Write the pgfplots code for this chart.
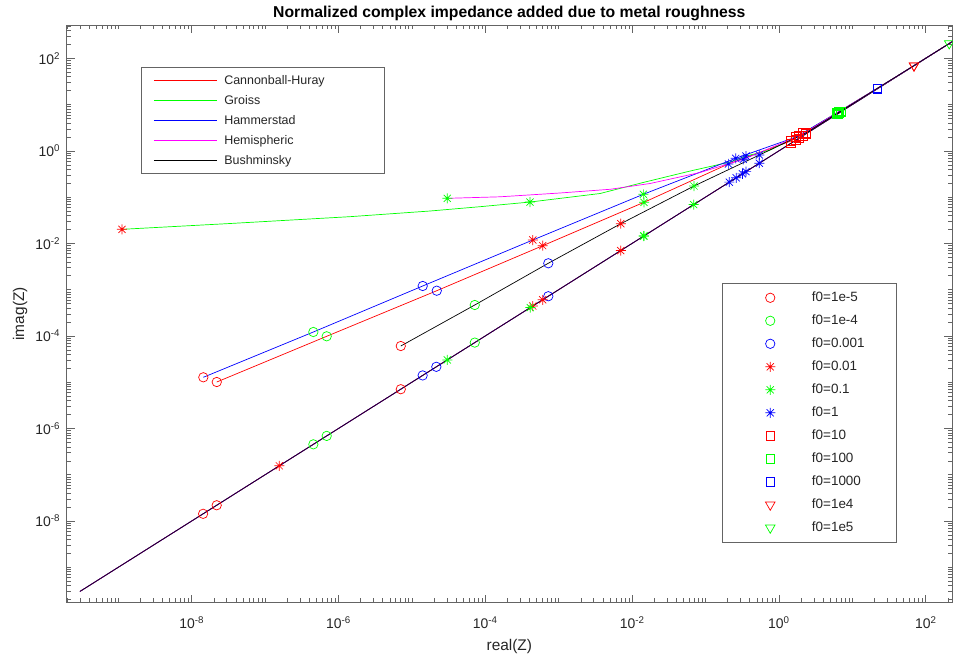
\documentclass[border=0pt]{standalone}
\usepackage{pgfplots}
\pgfplotsset{compat=1.18}
\usepackage{fontspec}
\setmainfont{Liberation Sans}
\definecolor{mred}{RGB}{255,0,0}
\definecolor{mgreen}{RGB}{0,255,0}
\definecolor{mblue}{RGB}{0,0,255}
\definecolor{mmag}{RGB}{255,0,255}
\definecolor{axgray}{RGB}{100,100,100}
\definecolor{txgray}{RGB}{38,38,38}
\pgfdeclareplotmark{mstar}{%
 \pgfpathmoveto{\pgfqpoint{-\pgfplotmarksize}{0pt}}\pgfpathlineto{\pgfqpoint{\pgfplotmarksize}{0pt}}%
 \pgfpathmoveto{\pgfqpoint{0pt}{-\pgfplotmarksize}}\pgfpathlineto{\pgfqpoint{0pt}{\pgfplotmarksize}}%
 \pgfpathmoveto{\pgfqpoint{-.7071\pgfplotmarksize}{-.7071\pgfplotmarksize}}\pgfpathlineto{\pgfqpoint{.7071\pgfplotmarksize}{.7071\pgfplotmarksize}}%
 \pgfpathmoveto{\pgfqpoint{-.7071\pgfplotmarksize}{.7071\pgfplotmarksize}}\pgfpathlineto{\pgfqpoint{.7071\pgfplotmarksize}{-.7071\pgfplotmarksize}}%
 \pgfusepathqstroke}
\pgfplotsset{
  leglines/.style={legend image code/.code={\draw[##1] (0bp,0bp) -- (63.4bp,0bp);}},
  legmarks/.style={legend image code/.code={\path[draw=none,fill=none] (0bp,-3bp) rectangle (48bp,3bp); \draw[mark repeat=2,mark phase=2,##1] plot coordinates {(0bp,0bp) (24bp,0bp) (48bp,0bp)};}},
}
\gdef\minorlist{2e-10}
\foreach \ee in {-10,...,2}{\foreach \dd in {2,...,9}{\xdef\minorlist{\minorlist,\dd e\ee}}}
\foreach \ee in {-9,-7,-5,-3,-1,1}{\xdef\minorlist{\minorlist,1e\ee}}
\begin{document}%
\begin{tikzpicture}
\begin{axis}[
  scale only axis, width=885.3bp, height=577.7bp, at={(0bp,0bp)}, anchor=south west,
  xmode=log, ymode=log,
  xmin=1.98e-10, xmax=228, ymin=1.714e-10, ymax=525,
  axis line style={axgray, line width=0.6bp},
  tick align=inside,
  tick style={axgray, line width=0.5bp},
  major tick length=8bp, minor tick length=4.3bp,
  xtick={1e-8,1e-6,1e-4,1e-2,1,1e2},
  xticklabels={10\textsuperscript{-8},10\textsuperscript{-6},10\textsuperscript{-4},10\textsuperscript{-2},10\textsuperscript{0},10\textsuperscript{2}},
  ytick={1e-8,1e-6,1e-4,1e-2,1,1e2},
  yticklabels={10\textsuperscript{-8},10\textsuperscript{-6},10\textsuperscript{-4},10\textsuperscript{-2},10\textsuperscript{0},10\textsuperscript{2}},
  minor xtick/.expanded=\minorlist,
  minor ytick/.expanded=\minorlist,
  tick label style={font=\fontsize{14}{16}\selectfont, text=txgray},
  xticklabel style={anchor=base, yshift=-25.6bp},
  yticklabel style={anchor=east, inner sep=0pt, xshift=-6.5bp},
  title={Normalized complex impedance added due to metal roughness},
  every axis title/.style={font=\bfseries\fontsize{15.8}{18}\selectfont, at={(0.5,1.0133)}, anchor=base},
  xlabel={real(Z)}, ylabel={imag(Z)},
  every axis x label/.style={font=\fontsize{15.5}{18}\selectfont, text=txgray, at={(0.5,-0.0819)}, anchor=base},
  every axis y label/.style={font=\fontsize{15.5}{18}\selectfont, text=txgray, at={(-0.0527,0.5)}, rotate=90, anchor=center},
  leglines,
  legend style={at={(0.0836,0.9268)}, anchor=north west,
    draw=axgray, line width=0.6bp, inner xsep=12.6bp, inner ysep=7bp,
    font=\fontsize{12.5}{14}\selectfont, text=txgray,
    nodes={inner sep=0pt, text height=9.5bp, text depth=2.5bp},
    row sep=8bp},
  legend cell align=left,
]
\addlegendimage{draw=mred, line width=0.7bp}
\addlegendentry{\hspace{6.6bp}\makebox[147bp][l]{Cannonball-Huray}}
\addlegendimage{draw=mgreen, line width=0.7bp}
\addlegendentry{\hspace{6.6bp}Groiss}
\addlegendimage{draw=mblue, line width=0.7bp}
\addlegendentry{\hspace{6.6bp}Hammerstad}
\addlegendimage{draw=mmag, line width=0.7bp}
\addlegendentry{\hspace{6.6bp}Hemispheric}
\addlegendimage{draw=black, line width=0.7bp}
\addlegendentry{\hspace{6.6bp}Bushminsky}
% non-causal branches (imag = real)
\addplot[draw=mred, line width=0.7bp, forget plot] coordinates {(3e-10,3e-10) (260,260)};
\addplot[draw=mgreen, line width=0.7bp, forget plot] coordinates {(3e-10,3e-10) (260,260)};
\addplot[draw=mblue, line width=0.7bp, forget plot] coordinates {(3e-10,3e-10) (260,260)};
\addplot[draw=mmag, line width=0.7bp, forget plot] coordinates {(3e-10,3e-10) (260,260)};
\addplot[draw=black, forget plot, line width=0.6bp] coordinates {(3e-10,3e-10) (260,260)};
% causal branches
\addplot[draw=mred, line width=0.7bp, forget plot] coordinates {(2.193e-8,1.009e-5) (6.90e-7,9.82e-5) (2.18e-5,9.49e-4) (6.05e-4,8.91e-3) (1.452e-2,7.73e-2) (0.2047,0.520) (1.462,1.633) (6.17,6.61) (21.9,22.4) (69.2,69.5) (209,209) (260,260)};
\addplot[draw=mgreen, line width=0.7bp, forget plot] coordinates {(1.122e-9,2.014e-2) (3.33e-8,2.69e-2) (1.435e-6,3.78e-2) (1.766e-5,5.01e-2) (8.47e-5,6.21e-2) (4.06e-4,7.83e-2) (3.66e-3,0.1197) (1.41e-2,0.207) (6.15e-2,0.366) (0.216,0.574) (0.356,0.773) (0.757,1.04) (2.128,2.438) (6.61,7.08) (21.9,22.4) (69.2,69.5) (209,209) (260,260)};
\addplot[draw=mblue, line width=0.7bp, forget plot] coordinates {(1.439e-8,1.276e-5) (4.54e-7,1.216e-4) (1.403e-5,1.20e-3) (4.43e-4,1.183e-2) (1.422e-2,0.1151) (0.2576,0.690) (1.710,1.99) (6.31,6.76) (21.9,22.4) (69.2,69.5) (209,209) (260,260)};
\addplot[draw=mmag, line width=0.7bp, forget plot] coordinates {(3.03e-5,9.42e-2) (1.585e-4,0.1016) (1.04e-3,0.1228) (5.0e-3,0.1476) (1.754e-2,0.197) (8.41e-2,0.340) (0.327,0.656) (1.879,2.094) (6.46,6.92) (21.9,22.4) (69.2,69.5) (209,209) (260,260)};
\addplot[draw=black, line width=0.7bp, forget plot] coordinates {(7.05e-6,6.05e-5) (7.18e-5,4.66e-4) (7.21e-4,3.72e-3) (7.00e-3,2.66e-2) (6.97e-2,0.1738) (0.541,0.813) (2.339,2.45) (6.92,7.2) (21.9,22.4) (69.2,69.5) (209,209) (260,260)};
\end{axis}
\begin{axis}[
  scale only axis, width=885.3bp, height=577.7bp, at={(0bp,0bp)}, anchor=south west,
  xmode=log, ymode=log,
  xmin=1.98e-10, xmax=228, ymin=1.714e-10, ymax=525,
  hide axis,
  legmarks,
  legend style={at={(0.7398,0.5529)}, anchor=north west,
    draw=axgray, line width=0.6bp, inner xsep=24.3bp, inner ysep=8.2bp,
    font=\fontsize{13.5}{15}\selectfont, text=txgray,
    nodes={inner sep=0pt, text height=10bp, text depth=2bp},
    row sep=11bp},
  legend cell align=left,
]
\addplot[only marks, line width=0.7bp, mred, mark=o, mark size=4.7bp] coordinates {(1.439e-8,1.276e-5) (2.193e-8,1.009e-5) (7.05e-6,6.05e-5) (1.43e-8,1.43e-8) (2.19e-8,2.19e-8) (7.05e-6,7.05e-6)};
\addlegendentry{\hspace{17.7bp}f0=1e-5}
\addplot[only marks, line width=0.7bp, mgreen, mark=o, mark size=4.7bp] coordinates {(4.54e-7,1.216e-4) (6.90e-7,9.82e-5) (7.18e-5,4.66e-4) (4.54e-7,4.54e-7) (6.90e-7,6.90e-7) (7.18e-5,7.18e-5)};
\addlegendentry{\hspace{17.7bp}f0=1e-4}
\addplot[only marks, line width=0.7bp, mblue, mark=o, mark size=4.7bp] coordinates {(1.403e-5,1.20e-3) (2.18e-5,9.49e-4) (7.21e-4,3.72e-3) (1.40e-5,1.40e-5) (2.15e-5,2.15e-5) (7.21e-4,7.21e-4)};
\addlegendentry{\hspace{17.7bp}\makebox[60bp][l]{f0=0.001}}
\addplot[only marks, line width=0.7bp, mred, mark=mstar, mark size=5bp] coordinates {(1.122e-9,2.014e-2) (4.43e-4,1.183e-2) (6.05e-4,8.91e-3) (7.00e-3,2.66e-2) (1.56e-7,1.56e-7) (4.43e-4,4.43e-4) (6.05e-4,6.05e-4) (7.0e-3,7.0e-3)};
\addlegendentry{\hspace{17.7bp}f0=0.01}
\addplot[only marks, line width=0.7bp, mgreen, mark=mstar, mark size=5bp] coordinates {(4.06e-4,7.83e-2) (3.03e-5,9.42e-2) (1.422e-2,0.1151) (1.452e-2,7.73e-2) (6.97e-2,0.1738) (3.03e-5,3.03e-5) (4.1e-4,4.1e-4) (1.44e-2,1.44e-2) (1.45e-2,1.45e-2) (6.9e-2,6.9e-2)};
\addlegendentry{\hspace{17.7bp}f0=0.1}
\addplot[only marks, line width=0.7bp, mblue, mark=mstar, mark size=5bp] coordinates {(0.2047,0.520) (0.2576,0.690) (0.327,0.656) (0.356,0.773) (0.541,0.813) (0.211,0.211) (0.262,0.262) (0.318,0.318) (0.356,0.356) (0.541,0.541)};
\addlegendentry{\hspace{17.7bp}f0=1}
\addplot[only marks, line width=0.7bp, mred, mark=square, mark size=4.3bp] coordinates {(1.462,1.633) (1.710,1.99) (1.879,2.094) (2.128,2.438) (2.339,2.45) (1.462,1.462) (1.71,1.71) (1.879,1.879) (2.128,2.128) (2.339,2.339)};
\addlegendentry{\hspace{17.7bp}f0=10}
\addplot[only marks, line width=0.7bp, mgreen, mark=square, mark size=4.3bp] coordinates {(6.17,6.61) (6.31,6.76) (6.46,6.92) (6.61,7.08) (6.92,7.2) (6.17,6.17) (6.31,6.31) (6.46,6.46) (6.61,6.61) (6.92,6.92)};
\addlegendentry{\hspace{17.7bp}f0=100}
\addplot[only marks, line width=0.7bp, mblue, mark=square, mark size=4.3bp] coordinates {(21.9,22.4) (21.9,21.9)};
\addlegendentry{\hspace{17.7bp}f0=1000}
\addplot[only marks, line width=0.7bp, mred, mark=triangle, mark size=5.5bp, mark options={rotate=180}] coordinates {(69.2,69.5) (69.2,69.2)};
\addlegendentry{\hspace{17.7bp}f0=1e4}
\addplot[only marks, line width=0.7bp, mgreen, mark=triangle, mark size=5.5bp, mark options={rotate=180}] coordinates {(209,209)};
\addlegendentry{\hspace{17.7bp}f0=1e5}
\end{axis}
\pgfresetboundingbox
\useasboundingbox (-66.7bp,-52.3bp) rectangle (886.3bp,602.7bp);
\end{tikzpicture}%
\end{document}
